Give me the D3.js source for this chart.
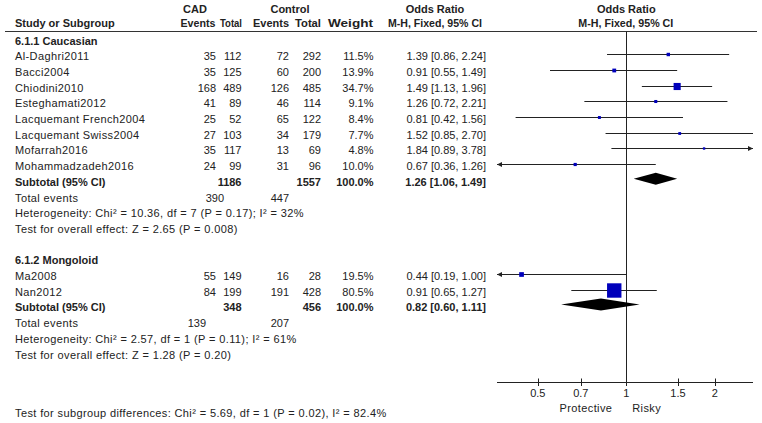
<!DOCTYPE html>
<html><head><meta charset="utf-8">
<script src="https://cdn.jsdelivr.net/npm/d3@7"></script>
<style>
html,body{margin:0;padding:0;background:#fff;}
svg{display:block;}
text{font-family:"Liberation Sans",Arial,sans-serif;font-size:11px;fill:#222;}
.b{font-weight:bold;}
.sp{letter-spacing:0.38px;}
</style></head>
<body><svg id="c" width="762" height="423"></svg>
<script>
// ---------- data ----------
const groupNames = ["6.1.1 Caucasian", "6.1.2 Mongoloid"];
const studyNames = ["Al-Daghri2011","Bacci2004","Chiodini2010","Esteghamati2012","Lacquemant French2004","Lacquemant Swiss2004","Mofarrah2016","Mohammadzadeh2016","Ma2008","Nan2012"];
const studyGroup = [0,0,0,0,0,0,0,0,1,1];
const cadEvents  = [35,35,168,41,25,27,35,24,55,84];
const cadTotal   = [112,125,489,89,52,103,117,99,149,199];
const ctrlEvents = [72,60,126,46,65,34,13,31,16,191];
const ctrlTotal  = [292,200,485,114,122,179,69,96,28,428];
const weights    = [11.5,13.9,34.7,9.1,8.4,7.7,4.8,10.0,19.5,80.5];
const orEst      = [1.39,0.91,1.49,1.26,0.81,1.52,1.84,0.67,0.44,0.91];
const orLow      = [0.86,0.55,1.13,0.72,0.42,0.85,0.89,0.36,0.19,0.65];
const orHigh     = [2.24,1.49,1.96,2.21,1.56,2.70,3.78,1.26,1.00,1.27];

const subCadTotal    = [1186,348];
const subCtrlTotal   = [1557,456];
const subWeight      = [100.0,100.0];
const subOr          = [1.26,0.82];
const subLow         = [1.06,0.60];
const subHigh        = [1.49,1.11];
const subCadEvents   = [390,139];
const subCtrlEvents  = [447,207];
const heteroText = ["Heterogeneity: Chi\u00B2 = 10.36, df = 7 (P = 0.17); I\u00B2 = 32%",
                    "Heterogeneity: Chi\u00B2 = 2.57, df = 1 (P = 0.11); I\u00B2 = 61%"];
const effectText = ["Test for overall effect: Z = 2.65 (P = 0.008)",
                    "Test for overall effect: Z = 1.28 (P = 0.20)"];
const subgroupText = "Test for subgroup differences: Chi\u00B2 = 5.69, df = 1 (P = 0.02), I\u00B2 = 82.4%";
const tickValues = [0.5,0.7,1,1.5,2];
const axisDomain = [0.363, 2.70];
const sideLabels = ["Protective","Risky"];

// ---------- layout ----------
const svg = d3.select("#c");
const x = d3.scaleLog().domain(axisDomain).range([497, 753]);
const rowY = r => 40.5 + r * 15.7;
const colX = {name:15, cadEv:216, cadTot:241.5, ctrlEv:289, ctrlTot:321, w:373.5, or:486};
const totEvX = [224, 206];
const axisY = 382;
const sizeScale = d3.scaleLinear().domain([0,100]).range([1.6,17.5]);
const fmt2 = d3.format(".2f"), fmt1 = d3.format(".1f");

function txt(xp, yc, s, anchor, cls) {
  return svg.append("text").attr("x", xp).attr("y", yc + 4)
    .attr("text-anchor", anchor || "start").attr("class", cls || null).text(s);
}
function hdr(xr, yc, s, w) {
  return svg.append("text").attr("x", xr - w).attr("y", yc + 4).attr("class", "b")
    .attr("textLength", w).attr("lengthAdjust", "spacingAndGlyphs").text(s);
}

// header
txt(195, 8.5, "CAD", "middle", "b");
txt(290, 8.5, "Control", "middle", "b");
txt(435, 8.5, "Odds Ratio", "middle", "b");
txt(x(1), 8.5, "Odds Ratio", "middle", "b");
txt(colX.name, 22.5, "Study or Subgroup", "start", "b");
hdr(215.5, 22.5, "Events", 35);
hdr(242, 22.5, "Total", 22);
hdr(289, 22.5, "Events", 36);
hdr(321, 22.5, "Total", 26);
hdr(373, 22.5, "Weight", 45);
hdr(482, 22.5, "M-H, Fixed, 95% CI", 94);
hdr(x(1) + 47, 22.5, "M-H, Fixed, 95% CI", 95);
svg.append("line").attr("x1", 5).attr("x2", 757).attr("y1", 31.5).attr("y2", 31.5)
  .attr("stroke", "#333").attr("stroke-width", 1);

// vertical null line
svg.append("line").attr("x1", Math.round(x(1)) + 0.5).attr("x2", Math.round(x(1)) + 0.5)
  .attr("y1", 31.5).attr("y2", axisY).attr("stroke", "#222");

const [dMin, dMax] = axisDomain;
function ciLine(i, y) {
  const lo = orLow[i], hi = orHigh[i];
  const x1 = x(Math.max(lo, dMin)), x2 = x(Math.min(hi, dMax));
  svg.append("line").attr("x1", x1).attr("x2", x2).attr("y1", y).attr("y2", y)
    .attr("stroke", "#222").attr("stroke-width", 1);
  if (lo < dMin) svg.append("path").attr("d", `M${x1},${y} l5,-2.5 l0,5 Z`).attr("fill", "#222");
  if (hi > dMax) svg.append("path").attr("d", `M${x2},${y} l-5,-2.5 l0,5 Z`).attr("fill", "#222");
}

let r = 0;
groupNames.forEach((g, gi) => {
  txt(colX.name, rowY(r), g, "start", "b");
  r++;
  studyNames.forEach((n, i) => {
    if (studyGroup[i] !== gi) return;
    const y = rowY(r);
    txt(colX.name, y, n, "start", "sp");
    txt(colX.cadEv, y, cadEvents[i], "end");
    txt(colX.cadTot, y, cadTotal[i], "end");
    txt(colX.ctrlEv, y, ctrlEvents[i], "end");
    txt(colX.ctrlTot, y, ctrlTotal[i], "end");
    txt(colX.w, y, fmt1(weights[i]) + "%", "end");
    txt(colX.or, y, `${fmt2(orEst[i])} [${fmt2(orLow[i])}, ${fmt2(orHigh[i])}]`, "end");
    const my = Math.round(y - 2) + 0.5;
    ciLine(i, my);
    const s = sizeScale(weights[i]);
    svg.append("rect").attr("x", x(orEst[i]) - s / 2).attr("y", my - s / 2)
      .attr("width", s).attr("height", s).attr("fill", "#0000bb");
    r++;
  });
  // subtotal
  let y = rowY(r);
  txt(colX.name, y, "Subtotal (95% CI)", "start", "b");
  txt(colX.cadTot, y, subCadTotal[gi], "end", "b");
  txt(colX.ctrlTot, y, subCtrlTotal[gi], "end", "b");
  txt(colX.w, y, fmt1(subWeight[gi]) + "%", "end", "b");
  txt(colX.or, y, `${fmt2(subOr[gi])} [${fmt2(subLow[gi])}, ${fmt2(subHigh[gi])}]`, "end", "b");
  const dy = y - 3;
  svg.append("path").attr("d",
    `M${x(subLow[gi])},${dy} L${x(subOr[gi])},${dy - 6} L${x(subHigh[gi])},${dy} L${x(subOr[gi])},${dy + 6} Z`)
    .attr("fill", "#000");
  r++;
  y = rowY(r);
  txt(colX.name, y, "Total events", "start", "sp");
  txt(totEvX[gi], y, subCadEvents[gi], "end");
  txt(colX.ctrlEv, y, subCtrlEvents[gi], "end");
  r++;
  txt(colX.name, rowY(r), heteroText[gi], "start", "sp"); r++;
  txt(colX.name, rowY(r), effectText[gi], "start", "sp"); r++;
  r++; // blank row
});

// axis
svg.append("line").attr("x1", x.range()[0]).attr("x2", x.range()[1])
  .attr("y1", axisY + 0.5).attr("y2", axisY + 0.5).attr("stroke", "#222");
tickValues.forEach(t => {
  const tx = Math.round(x(t)) + 0.5;
  svg.append("line").attr("x1", tx).attr("x2", tx).attr("y1", axisY - 3.5).attr("y2", axisY + 4)
    .attr("stroke", "#222");
  txt(x(t), 393, t, "middle");
});
txt(x(1) - 14, 408, sideLabels[0], "end", "sp");
txt(x(1) + 6, 408, sideLabels[1], "start", "sp");

txt(colX.name, 413, subgroupText, "start", "sp");
</script></body></html>
